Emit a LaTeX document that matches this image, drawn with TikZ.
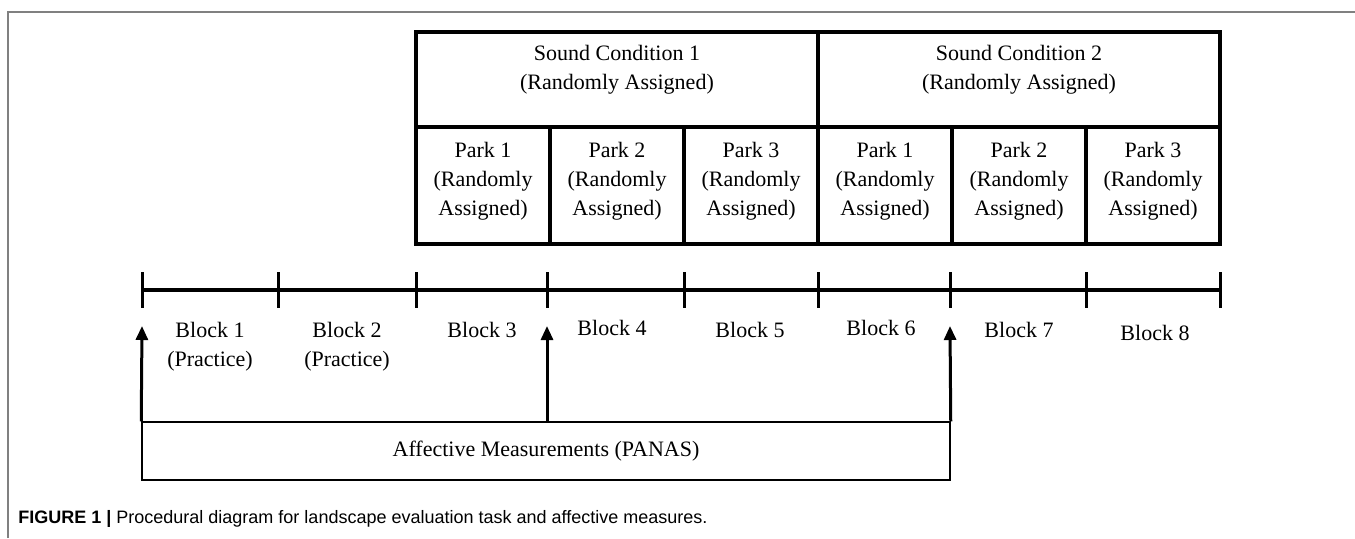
\documentclass[tikz,border=0pt]{standalone}
\usepackage{fontspec}
\setmainfont{Liberation Serif}
\setsansfont{Liberation Sans}
\usetikzlibrary{positioning}
\usetikzlibrary{arrows.meta}

\begin{document}
\begin{tikzpicture}[x=0.5pt, y=-0.5pt, font=\fontsize{11}{14.5}\selectfont,
    condbox/.style={draw, line width=2pt, minimum width=201pt, minimum height=47.5pt, inner sep=0pt},
    parkbox/.style={draw, line width=2pt, minimum width=67pt, minimum height=58.5pt, inner sep=0pt},
    celltext/.style={align=center, inner sep=0pt},
    blocklabel/.style={align=center, anchor=north, inner sep=0pt},
    measure/.style={line width=1.5pt, -{Triangle[length=7pt, width=6pt]}}]
    \useasboundingbox (0,0) rectangle (1355,538);
    \draw[gray, line width=0.75pt] (8,538) -- (8,12) -- (1355,12);
    % sound conditions
    \node[condbox] (sc1) at (617,79.5) {};
    \node[condbox] (sc2) at (1019,79.5) {};
    \node[celltext, below=7.6pt of sc1.north] (sc1t) {Sound Condition 1\\(Randomly Assigned)};
    \node[celltext, below=7.6pt of sc2.north] (sc2t) {Sound Condition 2\\(Randomly Assigned)};
    % parks
    \foreach \p [count=\i] in {1,2,3,1,2,3}{
        \node[parkbox] (pk\i) at (349+134*\i,185.5) {};
        \node[celltext, below=8.6pt of pk\i.north] (pk\i t) {Park \p\\(Randomly\\Assigned)};
    }
    % timeline
    \foreach \x [count=\i] in {142,278,416,547,684,818,950,1086,1220}
        \coordinate (t\i) at (\x,290);
    \draw[line width=2pt] (t1) -- (t9);
    \foreach \i in {1,...,9}
        \draw[line width=1.5pt] ([yshift=9pt]t\i) -- ([yshift=-9pt]t\i);
    \node[blocklabel] (b1) at (210,322) {Block 1\\(Practice)};
    \node[blocklabel] (b2) at (347,322) {Block 2\\(Practice)};
    \node[blocklabel] (b3) at (482,322) {Block 3};
    \node[blocklabel] (b4) at (612,320) {Block 4};
    \node[blocklabel] (b5) at (750,322) {Block 5};
    \node[blocklabel] (b6) at (881,320) {Block 6};
    \node[blocklabel] (b7) at (1019,322) {Block 7};
    \node[blocklabel] (b8) at (1155,325) {Block 8};
    % affective measures
    \node[draw, line width=0.75pt, minimum width=404pt, minimum height=29pt, inner sep=0pt] (panas) at (546,451) {Affective Measurements (PANAS)};
    \coordinate (a1) at (142,326);
    \coordinate (a2) at (547,326);
    \coordinate (a3) at (950,326);
    \draw[measure] (panas.north west) -- (a1);
    \draw[measure] (a2 |- panas.north) -- (a2);
    \draw[measure] (panas.north east) -- (a3);
    \node[anchor=base west, inner sep=0pt, font=\sffamily\fontsize{9}{11}\selectfont] (caption) at (18,523)
        {\textbf{FIGURE 1 |} Procedural diagram for landscape evaluation task and affective measures.};
\end{tikzpicture}
\end{document}
